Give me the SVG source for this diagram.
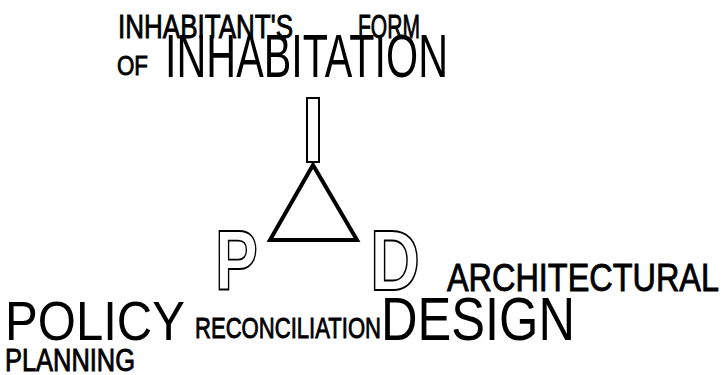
<svg xmlns="http://www.w3.org/2000/svg" width="727" height="375" viewBox="0 0 727 375">
<style>
.b{font-family:"Liberation Sans",Arial,sans-serif;font-weight:normal;fill:#000;stroke:#000;stroke-width:0.9}
.t{font-family:"Liberation Sans",Arial,sans-serif;font-weight:normal;fill:#000}
.o{font-family:"Liberation Sans",Arial,sans-serif;font-weight:bold;fill:#fff;stroke:#000;stroke-width:1.8}
.ln{fill:none;stroke:#000}
</style>
<rect width="727" height="375" fill="#fff"/>
<g id="title">
<text class="b" x="118" y="38" font-size="34" textLength="175" lengthAdjust="spacingAndGlyphs">INHABITANT'S</text>
<text class="b" x="358" y="38" font-size="34" textLength="62" lengthAdjust="spacingAndGlyphs">FORM</text>
<text class="b" x="117" y="75" font-size="28" textLength="31" lengthAdjust="spacingAndGlyphs">OF</text>
<text class="t" x="165" y="77" font-size="61" textLength="283" lengthAdjust="spacingAndGlyphs">INHABITATION</text>
</g>
<g id="node-I">
<rect class="ln" x="307" y="98" width="12" height="64" stroke-width="2"/>
</g>
<g id="connectors">
<polygon class="ln" points="313,165 270,240 357,240" stroke-width="4"/>
</g>
<g id="node-P">
<text class="o" x="215" y="290" font-size="86" textLength="43" lengthAdjust="spacingAndGlyphs">P</text>
</g>
<g id="node-D">
<text class="o" x="370" y="290" font-size="86" textLength="50" lengthAdjust="spacingAndGlyphs">D</text>
</g>
<g id="architectural">
<text class="b" x="447" y="291" font-size="39" textLength="272" lengthAdjust="spacingAndGlyphs">ARCHITECTURAL</text>
<text class="t" x="381" y="340" font-size="62" textLength="194" lengthAdjust="spacingAndGlyphs">DESIGN</text>
</g>
<g id="policy">
<text class="t" x="5" y="340" font-size="56" textLength="180" lengthAdjust="spacingAndGlyphs">POLICY</text>
<text class="b" x="5" y="371" font-size="32" textLength="130" lengthAdjust="spacingAndGlyphs">PLANNING</text>
</g>
<g id="reconciliation">
<text class="b" x="195" y="338" font-size="30" textLength="186" lengthAdjust="spacingAndGlyphs">RECONCILIATION</text>
</g>
</svg>
